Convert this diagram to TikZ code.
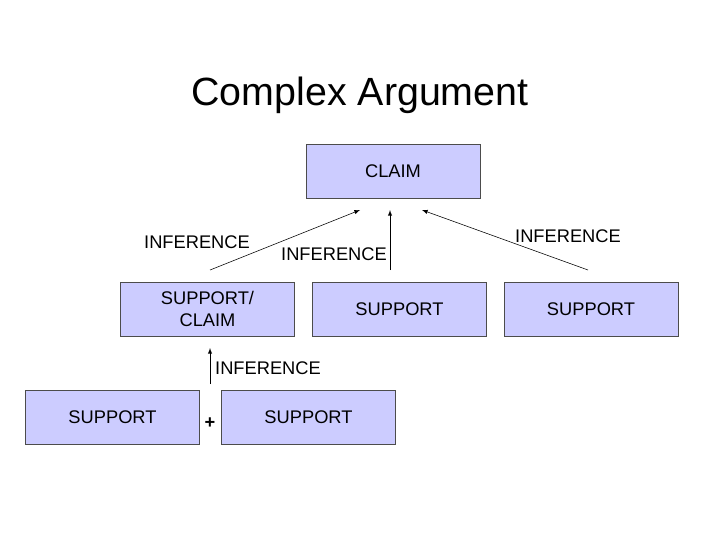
\documentclass[tikz,border=0pt]{standalone}
\usepackage{fontspec}
\setmainfont{Liberation Sans}
\usetikzlibrary{arrows}
\tikzset{
    box/.style =    {rectangle,
                    fill=boxfill,
                    draw=black!70,
                    text=black,
                    thin,
                    align=center,
                    font=\fontsize{13}{15}\selectfont,
                    minimum width=4.35cm,
                    minimum height=1.35cm},
    label/.style =  {text=black,
                    inner sep=0pt,
                    font=\fontsize{13}{15}\selectfont},
    >=latex}
\definecolor{boxfill}{RGB}{204,204,255}
\begin{document}
\begin{tikzpicture}[x=0.025cm,y=-0.025cm]
                \useasboundingbox (0,0) rectangle (720,540);
                \node (title) at (360,95) {\fontsize{28}{32}\selectfont Complex Argument};

                \node[box]          (claim)  at (393,171)  {CLAIM};
                \node[box]          (sc)     at (207.5,309) {SUPPORT/\\CLAIM};
                \node[box]          (s2)     at (399.5,309) {SUPPORT};
                \node[box]          (s3)     at (591,309)   {SUPPORT};
                \node[box]          (b1)     at (112.5,417) {SUPPORT};
                \node[box]          (b2)     at (308.5,417) {SUPPORT};

                \coordinate (t1) at (360,210);
                \coordinate (t2) at (390,210);
                \coordinate (t3) at (422,210);
                \coordinate (f1) at (210,270);
                \coordinate (f2) at (390,270);
                \coordinate (f3) at (588,270);
                \coordinate (t4) at (210,348);
                \coordinate (f4) at (210,384);

                \path [thin,->]     (f1) edge [] (t1)
                                    (f2) edge [] (t2)
                                    (f3) edge [] (t3)
                                    (f4) edge [] (t4);

                \node[label]        (i1) at (197,242) {INFERENCE};
                \node[label]        (i2) at (334,254) {INFERENCE};
                \node[label]        (i3) at (568,236) {INFERENCE};
                \node[label]        (i4) at (268,368) {INFERENCE};
                \node[label]        (plus) at (210,423) {\textbf{+}};
        \end{tikzpicture}
\end{document}
